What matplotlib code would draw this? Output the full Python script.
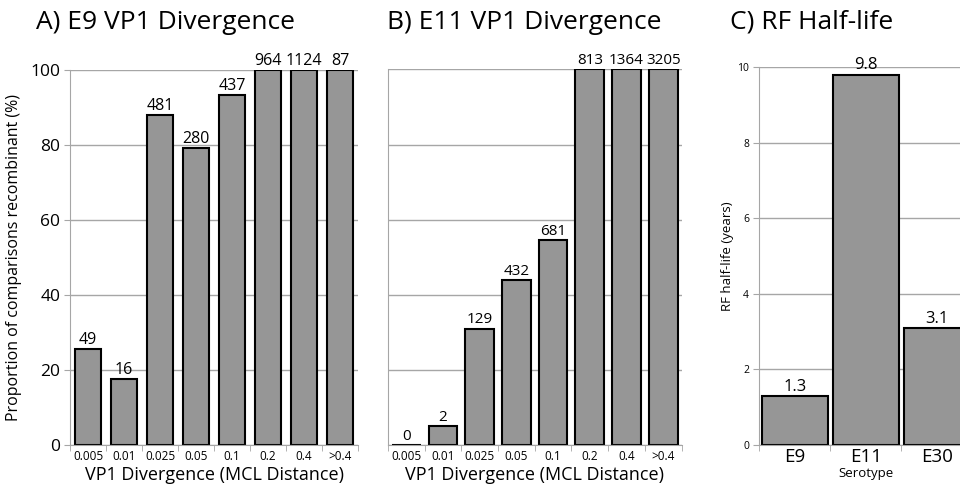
import matplotlib
matplotlib.use('Agg')
from matplotlib import pyplot as plt
import numpy as np

plt.rcParams['font.family'] = ['Open Sans', 'DejaVu Sans']

# data
div_labels = ['0.005', '0.01', '0.025', '0.05', '0.1', '0.2', '0.4', '>0.4']
e9_prop = [25.5, 17.5, 88, 79.3, 93.5, 100, 100, 100]
e9_n = ['49', '16', '481', '280', '437', '964', '1124', '87']
e11_prop = [0, 5, 31, 44, 54.5, 100, 100, 100]
e11_n = ['0', '2', '129', '432', '681', '813', '1364', '3205']
serotypes = ['E9', 'E11', 'E30']
half_life = [1.3, 9.8, 3.1]
half_life_lbl = ['1.3', '9.8', '3.1']

bar_col = '#969696'
grid_col = '#a6a6a6'

fig = plt.figure(figsize=(9.6, 4.91), dpi=100)


def style_axis(ax, n, ylim, ticks):
    ax.set_xlim(-0.5, n - 0.5)
    ax.set_ylim(*ylim)
    ax.set_yticks(ticks)
    ax.yaxis.grid(True, color=grid_col, lw=1)
    ax.set_axisbelow(True)
    for s in ['top', 'right']:
        ax.spines[s].set_visible(False)
    ax.spines['left'].set_color(grid_col)
    ax.spines['bottom'].set_color(grid_col)
    ax.set_xticks(np.arange(n))
    ax.set_xticks(np.arange(n + 1) - 0.5, minor=True)
    ax.tick_params(axis='x', which='major', length=0)
    ax.tick_params(axis='x', which='minor', length=4, color=grid_col)
    ax.tick_params(axis='y', length=4, color=grid_col)


# A) E9
axA = fig.add_axes([0.073, 0.0937, 0.300, 0.763])
x = np.arange(len(div_labels))
axA.bar(x, e9_prop, width=0.7, color=bar_col, edgecolor='black', lw=1.5)
for xi, v, t in zip(x, e9_prop, e9_n):
    axA.text(xi, v + 0.3, t, ha='center', va='bottom', fontsize=11.5)
style_axis(axA, len(div_labels), (0, 100), [0, 20, 40, 60, 80, 100])
axA.set_xticklabels(div_labels, fontsize=8.5)
axA.tick_params(axis='y', labelsize=12.5, pad=3)
axA.set_xlabel('VP1 Divergence (MCL Distance)', fontsize=13, labelpad=2)
axA.set_ylabel('Proportion of comparisons recombinant (%)', fontsize=11.5, labelpad=6)

# B) E11
axB = fig.add_axes([0.404, 0.0937, 0.306, 0.765])
axB.bar(x, e11_prop, width=0.78, color=bar_col, edgecolor='black', lw=1.5)
for xi, v, t in zip(x, e11_prop, e11_n):
    axB.text(xi, v + 0.3, t, ha='center', va='bottom', fontsize=11)
style_axis(axB, len(div_labels), (0, 100), [0, 20, 40, 60, 80, 100])
axB.set_xticklabels(div_labels, fontsize=8.5)
axB.tick_params(axis='y', labelleft=False, length=0)
axB.set_xlabel('VP1 Divergence (MCL Distance)', fontsize=13, labelpad=2)

# C) RF half-life
axC = fig.add_axes([0.791, 0.0937, 0.222, 0.7699])
xs = np.arange(len(serotypes))
axC.bar(xs, half_life, width=0.92, color=bar_col, edgecolor='black', lw=1.5)
for xi, v, t in zip(xs, half_life, half_life_lbl):
    axC.text(xi, v + 0.03, t, ha='center', va='bottom', fontsize=12)
style_axis(axC, len(serotypes), (0, 10), [0, 2, 4, 6, 8, 10])
axC.set_xticklabels(serotypes, fontsize=13.5)
axC.tick_params(axis='x', which='major', pad=2)
axC.tick_params(axis='y', labelsize=7.5)
axC.set_xlabel('Serotype', fontsize=9.5, labelpad=1)
axC.set_ylabel('RF half-life (years)', fontsize=9.5, labelpad=2)

# panel titles
fig.text(0.038, 0.955, 'A) E9 VP1 Divergence', fontsize=19, va='center')
fig.text(0.403, 0.955, 'B) E11 VP1 Divergence', fontsize=19, va='center')
fig.text(0.760, 0.955, 'C) RF Half-life', fontsize=19, va='center')

fig.savefig('out.png', dpi=100)
